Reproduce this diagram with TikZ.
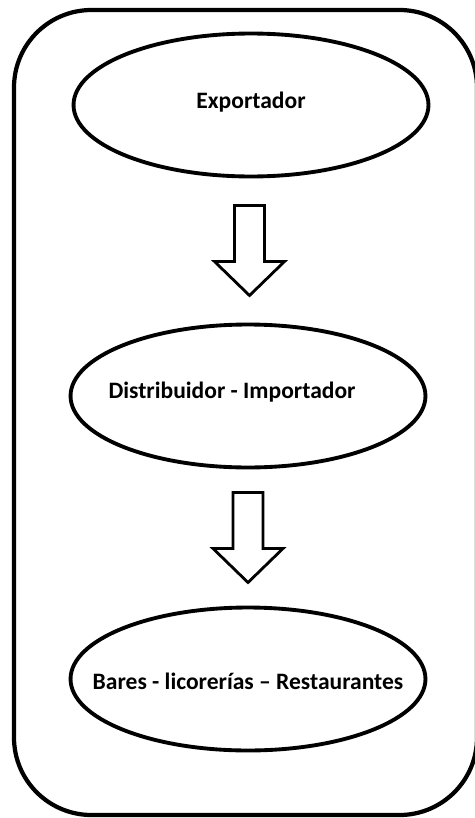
\documentclass[tikz,border=0pt]{standalone}
\usepackage{fontspec}
\setmainfont{Carlito}
\usetikzlibrary{shapes.geometric, calc}

\tikzset{
    etapa/.style={draw, ellipse, line width=2.2pt, minimum width=7.1cm, minimum height=2.86cm, inner sep=0pt},
    texto/.style={font=\fontsize{13.4}{16}\selectfont\bfseries},
    flecha/.pic={
        \draw[line width=1.6pt, line join=miter, fill=white]
            (-15,-45) -- (15,-45) -- (15,11) -- (35,11) -- (0,45) -- (-35,11) -- (-15,11) -- cycle;
    }
}

\begin{document}
\begin{tikzpicture}[x=0.02cm, y=-0.02cm]
        \useasboundingbox (0,0) rectangle (475,818);
        \draw[line width=2.4pt, rounded corners=1.55cm] (14,10) rectangle (477,815);

        \node[etapa, label={[texto, yshift=0.06cm]center:Exportador}] (exportador) at (251,105) {};
        \node[etapa, label={[texto, xshift=-0.32cm, yshift=0.08cm]center:Distribuidor - Importador}] (distribuidor) at (248,396) {};
        \node[etapa, label={[texto, yshift=-0.04cm]center:Bares - licorerías – Restaurantes}] (bares) at (248,679) {};

        \path ($(exportador.south)!0.5!(distribuidor.north)$) pic {flecha};
        \path ($(distribuidor.south)!0.5!(bares.north)$) pic {flecha};
    \end{tikzpicture}
\end{document}
